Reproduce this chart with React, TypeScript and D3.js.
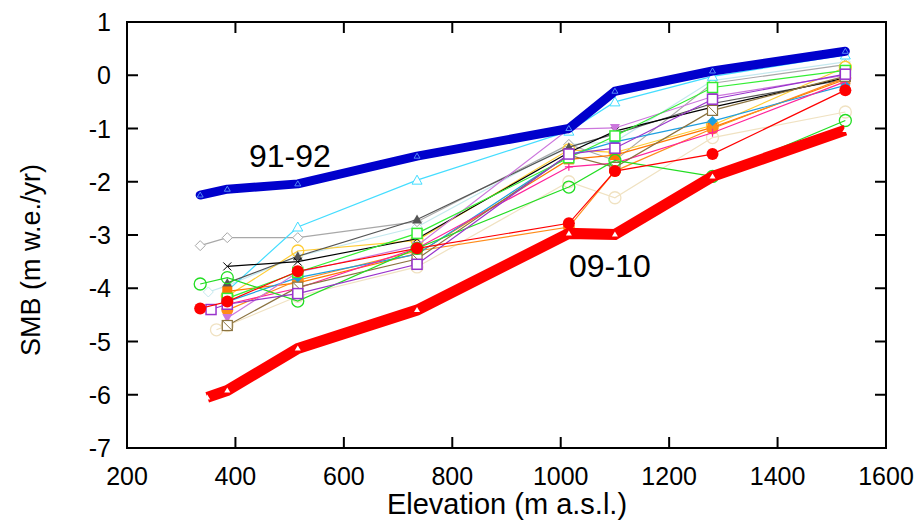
import React from 'react'
import * as d3 from 'd3'

// elevation bands (m a.s.l.)
const elevations = [335, 385, 515, 735, 1015, 1100, 1280, 1525]

// thick highlighted years
const smb9192 = [-2.25, -2.14, -2.04, -1.52, -1.0, -0.3, 0.08, 0.45]
const smb0910 = [-6.05, -5.92, -5.13, -4.41, -2.97, -2.99, -1.9, -1.03]
const elev0910 = [348, 385, 515, 735, 1015, 1100, 1280, 1525]

// other years (null = no value at that band)
const cyanTri = [null, -4.05, -2.85, -1.97, -1.05, -0.5, -0.02, 0.38]
const grayDiamond = [-3.2, -3.05, -3.05, -2.75, -1.3, -1.6, -0.15, 0.2]
const darkTri = [null, -3.9, -3.4, -2.71, -1.35, -1.1, -0.53, -0.08]
const blackCross = [null, -3.59, -3.5, -3.07, -1.45, -1.05, -0.6, -0.05]
const greenCircle = [-3.92, -3.8, -4.24, -3.25, -2.1, -1.6, -1.9, -0.85]
const greenSquare = [null, -4.19, -3.7, -2.97, -1.55, -1.14, -0.23, 0.09]
const redCircle = [-4.38, -4.25, -3.68, -3.25, -2.78, -1.8, -1.48, -0.28]
const purpleSquare = [-4.4, -4.3, -4.1, -3.55, -1.48, -1.37, -0.45, 0.02]
const orangeCircle = [null, -4.41, -3.85, -3.3, -2.85, -1.8, -1.0, -0.05]
const violetTri = [null, -4.56, -3.7, -3.2, -1.01, -0.99, -0.4, 0.0]
const tanSquare = [null, -4.7, -3.98, -3.45, -1.5, -1.73, -0.66, -0.02]
const wheatCircle = [-4.78, -4.7, -4.15, -3.6, -2.0, -2.3, -1.17, -0.69]
const lightDiamond = [-4.07, -3.95, -3.4, -2.85, -1.3, -1.25, -0.1, 0.25]
const skyDiamond = [null, -4.25, -3.8, -3.36, -1.5, -1.25, -0.86, -0.19]
const pinkPlus = [null, -4.3, -4.0, -3.25, -1.72, -1.65, -1.08, -0.12]
const goldCircle = [null, -4.15, -3.3, -3.1, -1.4, -1.45, -0.94, 0.15]
const orangeSquare = [null, -4.06, -3.9, -3.35, -1.58, -1.5, -0.98, -0.08]

// first-band elevation differs slightly for some years
const firstElevShift: Record<string, number> = { purple: 355, wheat: 365, light: 350 }

const xTicks = [200, 400, 600, 800, 1000, 1200, 1400, 1600]
const yTicks = [-7, -6, -5, -4, -3, -2, -1, 0, 1]

type Marker = 'triOpen' | 'diamondOpen' | 'triFilled' | 'cross' | 'circleOpen' | 'squareOpen' |
  'circleFilled' | 'triDown' | 'squareSlash' | 'diamondFilled' | 'plus' | 'squareFilled'

const thin: { key: string; color: string; marker: Marker; vals: (number | null)[] }[] = [
  { key: 'wheat', color: '#f0e2c2', marker: 'circleOpen', vals: wheatCircle },
  { key: 'light', color: '#c4e8ee', marker: 'diamondOpen', vals: lightDiamond },
  { key: 'gray', color: '#a8a8a8', marker: 'diamondOpen', vals: grayDiamond },
  { key: 'gold', color: '#ffcc33', marker: 'circleOpen', vals: goldCircle },
  { key: 'cyan', color: '#44ddff', marker: 'triOpen', vals: cyanTri },
  { key: 'dark', color: '#555555', marker: 'triFilled', vals: darkTri },
  { key: 'black', color: '#000000', marker: 'cross', vals: blackCross },
  { key: 'orangeSq', color: '#ff7700', marker: 'squareFilled', vals: orangeSquare },
  { key: 'orangeC', color: '#ff8c1a', marker: 'circleFilled', vals: orangeCircle },
  { key: 'sky', color: '#1e9fe0', marker: 'diamondFilled', vals: skyDiamond },
  { key: 'pink', color: '#ff2299', marker: 'plus', vals: pinkPlus },
  { key: 'violet', color: '#cc77dd', marker: 'triDown', vals: violetTri },
  { key: 'tan', color: '#8b7340', marker: 'squareSlash', vals: tanSquare },
  { key: 'greenSq', color: '#33ee33', marker: 'squareOpen', vals: greenSquare },
  { key: 'greenC', color: '#22dd22', marker: 'circleOpen', vals: greenCircle },
  { key: 'purple', color: '#9933cc', marker: 'squareOpen', vals: purpleSquare },
  { key: 'red', color: '#ff0000', marker: 'circleFilled', vals: redCircle },
]

const W = 920, H = 522
const left = 127, right = 886, top = 22, bottom = 448
const font = 'Helvetica, "Liberation Sans", Arial, sans-serif'

function drawMarker(m: Marker, x: number, y: number, c: string, k: string) {
  const s = 5
  switch (m) {
    case 'triOpen':
      return <path key={k} d={`M${x},${y - s}L${x + s},${y + s * 0.8}L${x - s},${y + s * 0.8}Z`} fill="white" stroke={c} strokeWidth={1} />
    case 'triFilled':
      return <path key={k} d={`M${x},${y - s}L${x + s},${y + s * 0.8}L${x - s},${y + s * 0.8}Z`} fill={c} />
    case 'triDown':
      return <path key={k} d={`M${x},${y + s}L${x + s},${y - s * 0.8}L${x - s},${y - s * 0.8}Z`} fill={c} />
    case 'diamondOpen':
      return <path key={k} d={`M${x},${y - s}L${x + s},${y}L${x},${y + s}L${x - s},${y}Z`} fill="white" stroke={c} strokeWidth={1} />
    case 'diamondFilled':
      return <path key={k} d={`M${x},${y - s}L${x + s},${y}L${x},${y + s}L${x - s},${y}Z`} fill={c} />
    case 'cross':
      return <path key={k} d={`M${x - 4},${y - 4}L${x + 4},${y + 4}M${x - 4},${y + 4}L${x + 4},${y - 4}`} stroke={c} strokeWidth={1} />
    case 'plus':
      return <path key={k} d={`M${x - 4},${y}L${x + 4},${y}M${x},${y - 4}L${x},${y + 4}`} stroke={c} strokeWidth={1.2} />
    case 'circleOpen':
      return <circle key={k} cx={x} cy={y} r={6} fill="none" stroke={c} strokeWidth={1.3} />
    case 'circleFilled':
      return <circle key={k} cx={x} cy={y} r={6} fill={c} />
    case 'squareOpen':
      return <rect key={k} x={x - 5} y={y - 5} width={10} height={10} fill="white" stroke={c} strokeWidth={1.5} />
    case 'squareFilled':
      return <rect key={k} x={x - 5} y={y - 5} width={10} height={10} fill={c} />
    case 'squareSlash':
      return <g key={k}><rect x={x - 5} y={y - 5} width={10} height={10} fill="white" stroke={c} strokeWidth={1.2} /><path d={`M${x - 5},${y - 5}L${x + 5},${y + 5}`} stroke={c} /></g>
  }
}

export default function App() {
  const xs = d3.scaleLinear().domain([200, 1600]).range([left, right])
  const ys = d3.scaleLinear().domain([-7, 1]).range([bottom, top])

  const line = d3.line<[number, number]>().x(d => xs(d[0])).y(d => ys(d[1]))

  const thinPts = thin.map(s => {
    const pts: [number, number][] = []
    s.vals.forEach((v, i) => {
      if (v === null) return
      const e = i === 0 && firstElevShift[s.key] ? firstElevShift[s.key] : elevations[i]
      pts.push([e, v])
    })
    return { ...s, pts }
  })

  const bluePts = elevations.map((e, i) => [e, smb9192[i]] as [number, number])
  const redPts = elev0910.map((e, i) => [e, smb0910[i]] as [number, number])

  const tick = 11
  return (
    <div style={{ position: 'absolute', left: 0, top: 0 }}>
      <svg width={W} height={H} style={{ display: 'block', background: 'white' }}>
        {/* thin year lines */}
        {thinPts.map(s => (
          <g key={s.key}>
            <path d={line(s.pts) || ''} fill="none" stroke={s.color} strokeWidth={1.2} />
            {s.pts.map((p, i) => drawMarker(s.marker, xs(p[0]), ys(p[1]), s.color, s.key + i))}
          </g>
        ))}
        {/* highlighted years */}
        <path d={line(bluePts) || ''} fill="none" stroke="#0000cc" strokeWidth={9} strokeLinejoin="round" strokeLinecap="round" />
        {bluePts.map((p, i) => (
          <path key={'b' + i} d={`M${xs(p[0])},${ys(p[1]) - 3}L${xs(p[0]) + 3},${ys(p[1]) + 2}L${xs(p[0]) - 3},${ys(p[1]) + 2}Z`} fill="none" stroke="#66aaff" strokeWidth={0.8} />
        ))}
        <path d={line(redPts) || ''} fill="none" stroke="#ff0000" strokeWidth={11} strokeLinejoin="miter" />
        {redPts.map((p, i) => (
          <path key={'r' + i} d={`M${xs(p[0])},${ys(p[1]) - 3}L${xs(p[0]) + 3},${ys(p[1]) + 2}L${xs(p[0]) - 3},${ys(p[1]) + 2}Z`} fill="white" />
        ))}

        {/* frame and ticks */}
        <rect x={left} y={top} width={right - left} height={bottom - top} fill="none" stroke="black" strokeWidth={2} />
        {xTicks.slice(1, -1).map(t => (
          <g key={'xt' + t}>
            <line x1={xs(t)} x2={xs(t)} y1={bottom} y2={bottom - tick} stroke="black" strokeWidth={2} />
            <line x1={xs(t)} x2={xs(t)} y1={top} y2={top + tick} stroke="black" strokeWidth={2} />
          </g>
        ))}
        {yTicks.slice(1, -1).map(t => (
          <g key={'yt' + t}>
            <line x1={left} x2={left + tick} y1={ys(t)} y2={ys(t)} stroke="black" strokeWidth={2} />
            <line x1={right} x2={right - tick} y1={ys(t)} y2={ys(t)} stroke="black" strokeWidth={2} />
          </g>
        ))}
        {xTicks.map(t => (
          <text key={'xl' + t} x={xs(t)} y={485} textAnchor="middle" fontFamily={font} fontSize={25}>{t}</text>
        ))}
        {yTicks.map(t => (
          <text key={'yl' + t} x={111} y={ys(t) + 9} textAnchor="end" fontFamily={font} fontSize={25}>{t}</text>
        ))}
        <text x={507} y={514} textAnchor="middle" fontFamily={font} fontSize={29}>Elevation (m a.s.l.)</text>
        <text transform={`translate(40,260) rotate(-90)`} textAnchor="middle" fontFamily={font} fontSize={27}>SMB (m w.e./yr)</text>
        <text x={249} y={167} fontFamily={font} fontSize={32}>91-92</text>
        <text x={569} y={277} fontFamily={font} fontSize={32}>09-10</text>
      </svg>
    </div>
  )
}
